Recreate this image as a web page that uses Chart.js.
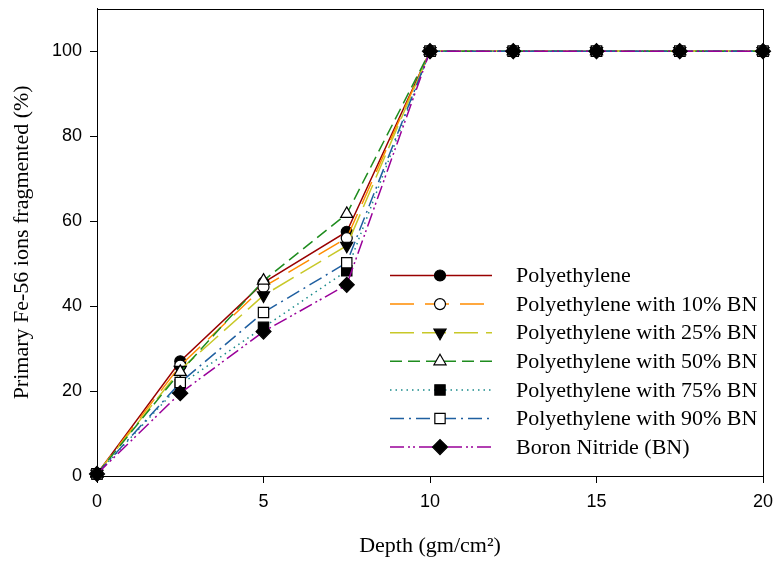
<!DOCTYPE html>
<html><head><meta charset="utf-8">
<script src="https://cdn.jsdelivr.net/npm/chart.js@4/dist/chart.umd.min.js"></script>
<style>html,body{margin:0;padding:0;background:#fff}#wrap{width:775px;height:562px;position:relative}</style>
</head><body><div id="wrap"><canvas id="c" width="775" height="562"></canvas></div>
<script>
const depths = [0, 2.5, 5, 7.5, 10, 12.5, 15, 17.5, 20];
const seriesNames = ["Polyethylene","Polyethylene with 10% BN","Polyethylene with 25% BN","Polyethylene with 50% BN","Polyethylene with 75% BN","Polyethylene with 90% BN","Boron Nitride (BN)"];
const pe    = [0.5, 27.0, 45.5, 57.5, 100, 100, 100, 100, 100];
const pe10  = [0.5, 26.0, 44.5, 56.0, 100, 100, 100, 100, 100];
const pe25  = [0.5, 25.0, 42.5, 54.2, 100, 100, 100, 100, 100];
const pe50  = [0.5, 24.5, 46.0, 61.7, 100, 100, 100, 100, 100];
const pe75  = [0.5, 21.5, 35.0, 48.3, 100, 100, 100, 100, 100];
const pe90  = [0.5, 22.0, 38.5, 50.2, 100, 100, 100, 100, 100];
const bn    = [0.5, 19.5, 34.0, 45.0, 100, 100, 100, 100, 100];
const yTicks = [0, 20, 40, 60, 80, 100];
const xTicks = [0, 5, 10, 15, 20];

const seriesValues = [pe, pe10, pe25, pe50, pe75, pe90, bn];
const styles = [
  {color:'#990000', dash:[], point:'circle', fill:'#000', rot:0, r:5.5},
  {color:'#ff8c00', dash:[24,11], point:'circle', fill:'#fff', rot:0, r:5.5},
  {color:'#c8c828', dash:[24,8], point:'triangle', fill:'#000', rot:180, r:7},
  {color:'#1e8c1e', dash:[12,6], point:'triangle', fill:'#fff', rot:0, r:7},
  {color:'#1a8a8a', dash:[1.5,4], point:'rect', fill:'#000', rot:0, r:7.3},
  {color:'#1f5fa0', dash:[14,5,2,5], point:'rect', fill:'#fff', rot:0, r:7.3},
  {color:'#990099', dash:[14,4,2,3,2,4], point:'rectRot', fill:'#000', rot:0, r:7.5}
];

const datasets = seriesNames.map((n,i)=>({
  label:n,
  data: depths.map((d,j)=>({x:d, y:seriesValues[i][j]})),
  borderColor: styles[i].color,
  borderWidth: 1.5,
  borderDash: styles[i].dash,
  pointStyle: styles[i].point,
  pointRotation: styles[i].rot,
  pointRadius: styles[i].r,
  pointBackgroundColor: styles[i].fill,
  pointBorderColor: '#000',
  pointBorderWidth: 1.2,
  tension: 0,
  clip: false,
  order: -i
}));

const legendPlugin = {
  id:'customLegend',
  afterDraw(chart){
    const ctx = chart.ctx;
    const x0 = 390, x1 = 492, xm = 440, xt = 516, y0 = 275.5, dy = 28.6;
    ctx.save();
    chart.data.datasets.forEach((ds,i)=>{
      const y = y0 + i*dy;
      ctx.save();
      ctx.strokeStyle = ds.borderColor; ctx.lineWidth = 1.5; ctx.setLineDash(ds.borderDash);
      ctx.beginPath(); ctx.moveTo(x0,y); ctx.lineTo(x1,y); ctx.stroke();
      ctx.setLineDash([]);
      ctx.fillStyle = ds.pointBackgroundColor; ctx.strokeStyle = '#000'; ctx.lineWidth = 1.2;
      Chart.helpers.drawPoint(ctx, {pointStyle: ds.pointStyle, rotation: ds.pointRotation, radius: ds.pointRadius, borderWidth: 1.2}, xm, y);
      ctx.restore();
      ctx.fillStyle = '#000';
      ctx.font = '22px "Liberation Serif", "Times New Roman", serif';
      ctx.textBaseline = 'middle'; ctx.textAlign = 'left';
      ctx.fillText(ds.label, xt, y+1);
    });
    ctx.restore();
  }
};
const framePlugin = {
  id:'frame',
  beforeDatasetsDraw(chart){
    const a = chart.chartArea, ctx = chart.ctx;
    ctx.save(); ctx.strokeStyle='#000'; ctx.lineWidth=1;
    ctx.strokeRect(Math.round(a.left)+0.5, Math.round(a.top)+0.5, Math.round(a.right-a.left), Math.round(a.bottom-a.top));
    ctx.restore();
  }
};

const tickFont = {family:'"Liberation Sans", Arial, sans-serif', size:18};
const titleFont = {family:'"Liberation Serif", "Times New Roman", serif', size:22};

new Chart(document.getElementById('c'), {
  type:'line',
  data:{datasets},
  options:{
    responsive:false, animation:false, devicePixelRatio:1,
    layout:{padding:{left:0, top:7, right:12, bottom:0}},
    plugins:{legend:{display:false}, tooltip:{enabled:false}},
    scales:{
      x:{type:'linear', min:0, max:20,
        afterBuildTicks(s){ s.ticks = xTicks.map(v=>({value:v})); },
        afterFit(s){ s.height = 86; s.paddingLeft = 0; s.paddingRight = 0; },
        grid:{drawOnChartArea:false, drawTicks:true, tickLength:7, color:'#000'},
        border:{color:'#000', width:1},
        ticks:{color:'#000', font:tickFont, padding:8, maxRotation:0},
        title:{display:true, text:'Depth (gm/cm²)', color:'#000', font:titleFont, padding:{top:4, bottom:3}}
      },
      y:{type:'linear', min:0, max:110,
        afterBuildTicks(s){ s.ticks = yTicks.map(v=>({value:v})); },
        afterFit(s){ s.width = 97; s.paddingTop = 0; s.paddingBottom = 0; },
        grid:{drawOnChartArea:false, drawTicks:true, tickLength:7, color:'#000'},
        border:{color:'#000', width:1},
        ticks:{color:'#000', font:tickFont, padding:8},
        title:{display:true, text:'Primary Fe-56 ions fragmented (%)', color:'#000', font:titleFont, padding:{top:9, bottom:4}}
      }
    }
  },
  plugins:[framePlugin, legendPlugin]
});
</script></body></html>
